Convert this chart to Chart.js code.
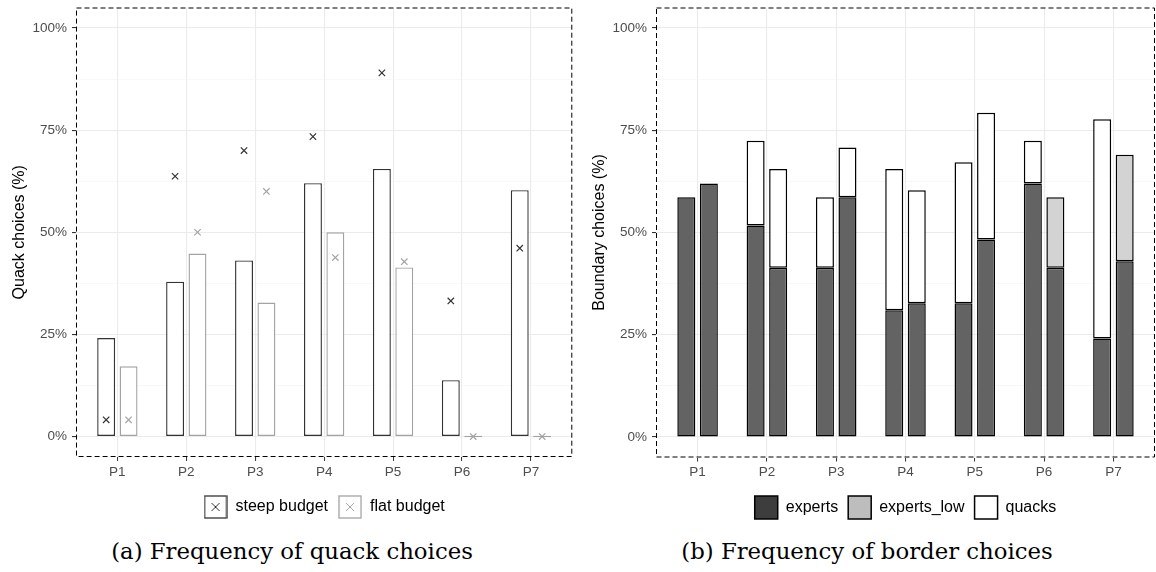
<!DOCTYPE html>
<html>
<head>
<meta charset="utf-8">
<script src="https://cdn.jsdelivr.net/npm/chart.js@4/dist/chart.umd.min.js"></script>
<style>
  body { margin: 0; background: #fff; width: 1156px; height: 572px; position: relative; overflow: hidden; }
  .panel { position: absolute; top: 0; }
  #left { left: 0; }
  #right { left: 580px; }
  .cap { position: absolute; top: 540px; width: 578px; text-align: center; line-height: 1;
         font-family: "DejaVu Serif", serif; font-size: 22.8px; color: #000; }
</style>
</head>
<body>
<div class="panel" id="left"><canvas id="quackChart" width="578" height="525"></canvas></div>
<div class="panel" id="right"><canvas id="borderChart" width="576" height="529"></canvas></div>
<div class="cap" style="left:3px">(a) Frequency of quack choices</div>
<div class="cap" style="left:578px">(b) Frequency of border choices</div>

<script>
// categories and tick labels
const periods = ["P1", "P2", "P3", "P4", "P5", "P6", "P7"];
const yTicks = [0, 12.5, 25, 37.5, 50, 62.5, 75, 87.5, 100];

// (a) quack choices, % per period
const steepBars = [24.1, 37.9, 43.1, 62.0, 65.5, 13.8, 60.3];
const flatBars = [17.2, 44.8, 32.8, 50.0, 41.4, 0, 0];
const steepCross = [4.1, 63.7, 70.0, 73.4, 89.0, 33.2, 46.1];
const flatCross = [4.1, 50.0, 60.0, 43.8, 42.8, 0, 0];

// (b) boundary choices, % per period (first bar = steep, second = flat)
const expertsSteep = [58.6, 51.7, 41.4, 31.0, 32.7, 62.0, 24.1];
const expertsLowSteep = [0, 0, 0, 0, 0, 0, 0];
const quacksSteep = [0, 20.7, 17.2, 34.5, 34.5, 10.4, 53.6];
const expertsFlat = [62.0, 41.4, 58.6, 32.7, 48.3, 41.4, 43.0];
const expertsLowFlat = [0, 0, 0, 0, 0, 17.2, 26.0];
const quacksFlat = [0, 24.1, 12.2, 27.6, 31.0, 0, 0];

const CAT_PCT = 0.65;
const BAR_PCT = 0.8;
const dodge = CAT_PCT / 4; // centre of each bar in a pair, in category units

const FONT = "'Liberation Sans', Arial, sans-serif";

const toXY = (vals, shift) => vals.map((v, i) => ({ x: i + (shift || 0), y: v }));

// dashed panel border like ggplot's panel.border
const panelBorder = {
  id: "panelBorder",
  afterDatasetsDraw(chart) {
    const { ctx, chartArea: a } = chart;
    ctx.save();
    ctx.strokeStyle = "#000";
    ctx.lineWidth = 1;
    ctx.setLineDash([5, 3]);
    ctx.strokeRect(a.left + 0.5, a.top + 0.5, a.width - 1, a.height - 1);
    ctx.restore();
  }
};

function baseOptions(yTitle, xHeight, padRight, legend, stacked) {
  return {
    responsive: false,
    animation: false,
    layout: { padding: { top: 7.5, right: padRight, left: 0, bottom: 0 } },
    plugins: { legend: legend, tooltip: { enabled: false } },
    scales: {
      x: {
        type: "linear",
        min: -0.6,
        max: 6.6,
        offset: false,
        stacked: stacked,
        afterBuildTicks: (axis) => { axis.ticks = periods.map((p, i) => ({ value: i })); },
        afterFit: (axis) => { axis.height = xHeight; axis.paddingLeft = 0; axis.paddingRight = 0; },
        border: { display: false },
        grid: { offset: false, color: "#ebebeb", lineWidth: 1.1, tickColor: "#333", tickLength: 4, tickWidth: 1 },
        ticks: {
          autoSkip: false, maxRotation: 0, padding: 3, color: "#4d4d4d",
          font: { family: FONT, size: 13.5 },
          callback: (v) => periods[v]
        }
      },
      y: {
        min: -5,
        max: 105,
        stacked: stacked,
        afterBuildTicks: (axis) => { axis.ticks = yTicks.map((v) => ({ value: v })); },
        afterFit: (axis) => { axis.width = 76; axis.paddingTop = 0; axis.paddingBottom = 0; },
        border: { display: false },
        grid: {
          color: (c) => (c.tick && c.tick.value % 25 === 0 ? "#ebebeb" : "#f4f4f4"),
          lineWidth: (c) => (c.tick && c.tick.value % 25 === 0 ? 1.1 : 0.6),
          tickColor: (c) => (c.tick && c.tick.value % 25 === 0 ? "#333" : "rgba(0,0,0,0)"),
          tickLength: 4
        },
        ticks: {
          padding: 5, color: "#4d4d4d",
          font: { family: FONT, size: 13.5 },
          callback: (v) => (v % 25 === 0 ? v + "%" : "")
        },
        title: {
          display: true, text: yTitle, color: "#000",
          font: { family: FONT, size: 16 },
          padding: { top: 10, bottom: 0 }
        }
      }
    }
  };
}

// legend swatch for panel (a): box with a cross, drawn once onto a small canvas
function crossSwatch(color) {
  const c = document.createElement("canvas");
  c.width = 24; c.height = 24;
  const g = c.getContext("2d");
  g.strokeStyle = color;
  g.lineWidth = 1.3;
  g.strokeRect(1, 1, 22, 22);
  g.lineWidth = 1;
  g.beginPath();
  g.moveTo(8, 8); g.lineTo(16, 16);
  g.moveTo(16, 8); g.lineTo(8, 16);
  g.stroke();
  return c;
}

const steepColor = "#333333";
const flatColor = "#a3a3a3";

new Chart(document.getElementById("quackChart"), {
  type: "bar",
  data: {
    datasets: [
      { type: "scatter", label: "steep cross", data: toXY(steepCross, -dodge), order: 0,
        pointStyle: "crossRot", pointRadius: 4.5, borderColor: steepColor, borderWidth: 1.2 },
      { type: "scatter", label: "flat cross", data: toXY(flatCross, dodge), order: 0,
        pointStyle: "crossRot", pointRadius: 4.5, borderColor: flatColor, borderWidth: 1.2 },
      { label: "steep budget", data: toXY(steepBars), order: 1,
        backgroundColor: "#fff", borderColor: steepColor, borderWidth: 1.4, borderSkipped: false,
        categoryPercentage: CAT_PCT, barPercentage: BAR_PCT, minBarLength: 1.5 },
      { label: "flat budget", data: toXY(flatBars), order: 1,
        backgroundColor: "#fff", borderColor: flatColor, borderWidth: 1.4, borderSkipped: false,
        categoryPercentage: CAT_PCT, barPercentage: BAR_PCT, minBarLength: 1.5 }
    ]
  },
  options: baseOptions("Quack choices (%)", 32, 2, {
    position: "bottom",
    fullSize: false,
    labels: {
      usePointStyle: true,
      pointStyleWidth: 24,
      padding: 10,
      color: "#000",
      font: { family: FONT, size: 16 },
      generateLabels: () => [
        { text: "steep budget", pointStyle: crossSwatch(steepColor), datasetIndex: 2, hidden: false, lineWidth: 0 },
        { text: "flat budget", pointStyle: crossSwatch(flatColor), datasetIndex: 3, hidden: false, lineWidth: 0 }
      ]
    }
  }, false),
  plugins: [panelBorder]
});

const expertsColor = "#636363";
const expertsLowColor = "#d3d3d3";
const quacksColor = "#ffffff";
const legendFill = { "experts": "#3d3d3d", "experts_low": "#bdbdbd", "quacks": "#ffffff" };

function stackBar(label, vals, color, stack) {
  return {
    label: label, data: toXY(vals), stack: stack,
    backgroundColor: color, borderColor: "#000", borderWidth: 1.5, borderSkipped: false,
    categoryPercentage: CAT_PCT, barPercentage: BAR_PCT
  };
}

new Chart(document.getElementById("borderChart"), {
  type: "bar",
  data: {
    datasets: [
      stackBar("experts", expertsSteep, expertsColor, "steep"),
      stackBar("experts_low", expertsLowSteep, expertsLowColor, "steep"),
      stackBar("quacks", quacksSteep, quacksColor, "steep"),
      stackBar("experts", expertsFlat, expertsColor, "flat"),
      stackBar("experts_low", expertsLowFlat, expertsLowColor, "flat"),
      stackBar("quacks", quacksFlat, quacksColor, "flat")
    ]
  },
  options: baseOptions("Boundary choices (%)", 28.5, 1, {
    position: "bottom",
    fullSize: false,
    labels: {
      boxWidth: 23,
      boxHeight: 23,
      padding: 10,
      color: "#000",
      font: { family: FONT, size: 16 },
      generateLabels: (chart) =>
        Chart.defaults.plugins.legend.labels.generateLabels(chart)
          .filter((item) => item.datasetIndex < 3)
          .map((item) => Object.assign(item, { fillStyle: legendFill[item.text], strokeStyle: "#000", lineWidth: 1.5 }))
    }
  }, true),
  plugins: [panelBorder]
});
</script>
</body>
</html>
